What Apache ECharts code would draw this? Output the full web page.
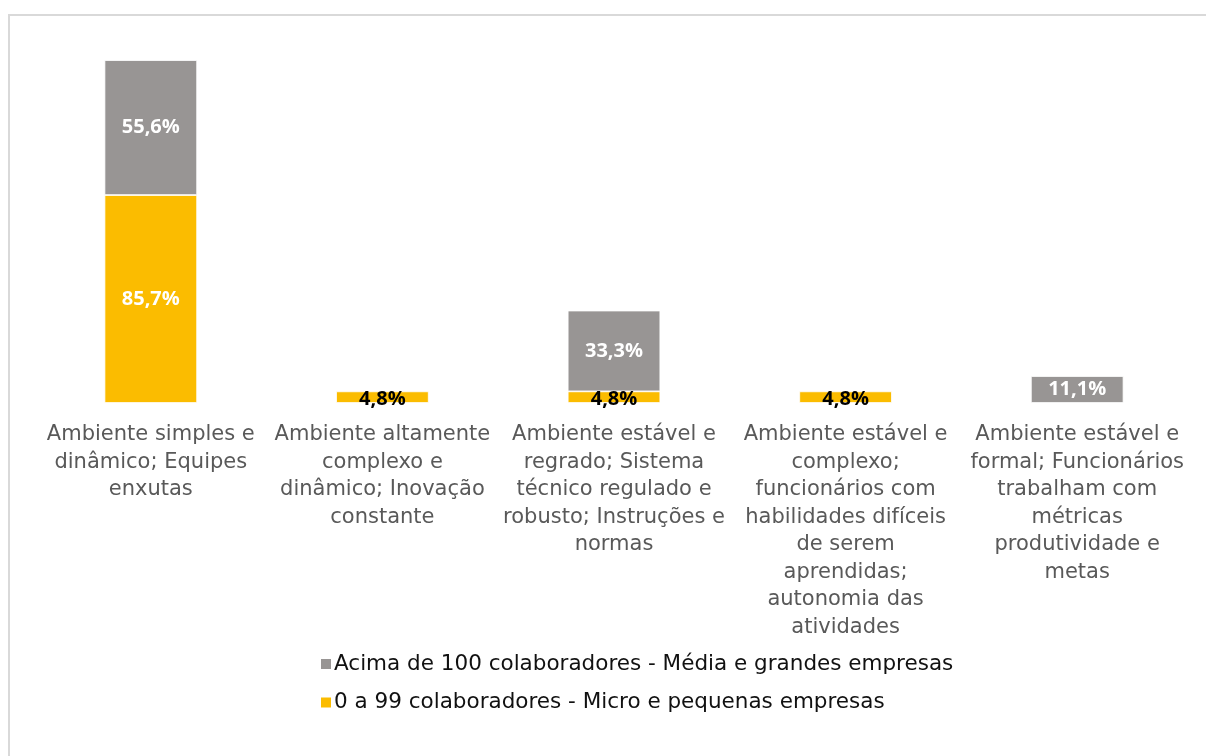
<!DOCTYPE html>
<html>
<head>
<meta charset="utf-8">
<style>
  html, body { margin: 0; padding: 0; background: #ffffff; overflow: hidden; }
  #frame { position: absolute; left: 8px; top: 14px; width: 1220px; height: 760px;
           border: 2px solid #d9d9d9; box-sizing: border-box; }
  #chart { position: absolute; left: 0; top: 0; width: 1206px; height: 756px; }
</style>
<script src="https://cdn.jsdelivr.net/npm/echarts@6/dist/echarts.min.js"></script>
</head>
<body>
<div id="frame"></div>
<div id="chart"></div>
<script>
// Organisational environment per company size (share of respondents, %)
const categories = [
  'Ambiente simples e\ndinâmico; Equipes\nenxutas',
  'Ambiente altamente\ncomplexo e\ndinâmico; Inovação\nconstante',
  'Ambiente estável e\nregrado; Sistema\ntécnico regulado e\nrobusto; Instruções e\nnormas',
  'Ambiente estável e\ncomplexo;\nfuncionários com\nhabilidades difíceis\nde serem\naprendidas;\nautonomia das\natividades',
  'Ambiente estável e\nformal; Funcionários\ntrabalham com\nmétricas\nprodutividade e\nmetas'
];
const smallCompanies = [85.7, 4.8, 4.8, 4.8, null];
const largeCompanies = [55.6, null, 33.3, null, 11.1];
const seriesNames = [
  '0 a 99 colaboradores - Micro e pequenas empresas',
  'Acima de 100 colaboradores - Média e grandes empresas'
];

const fmt = p => p.value.toFixed(1).replace('.', ',') + '%';
const textFont = 'DejaVu Sans, Liberation Sans, sans-serif';

const chart = echarts.init(document.getElementById('chart'));
chart.setOption({
  animation: false,
  grid: { left: 35, right: 13, top: 39, height: 364, containLabel: false },
  xAxis: {
    type: 'category',
    data: categories,
    axisLine: { show: false },
    axisTick: { show: false },
    axisLabel: {
      interval: 0,
      margin: 18,
      color: '#595959',
      fontFamily: textFont,
      fontSize: 21,
      lineHeight: 27.5,
      align: 'center'
    }
  },
  yAxis: {
    type: 'value', min: 0, max: 150, show: false,
    splitLine: { show: false }
  },
  legend: {
    orient: 'vertical',
    left: 314,
    top: 648,
    icon: 'rect',
    itemWidth: 12,
    itemHeight: 12,
    itemGap: 16.5,
    data: [seriesNames[1], seriesNames[0]],
    textStyle: {
      color: '#111111',
      fontFamily: textFont,
      fontSize: 21.5,
      padding: [0, 0, 0, -3]
    }
  },
  series: [
    {
      name: seriesNames[0],
      type: 'bar',
      stack: 'total',
      barWidth: '40%',
      data: smallCompanies.map(v => v === null ? null : {
        value: v,
        label: { color: v < 10 ? '#000000' : '#ffffff', offset: v < 10 ? [0, 2] : [0, 0] }
      }),
      itemStyle: { color: '#FBBC00', borderColor: '#ffffff', borderWidth: 0.8 },
      label: {
        show: true, position: 'inside', formatter: fmt,
        fontFamily: 'Open Sans, sans-serif', fontWeight: 'bold', fontSize: 20
      }
    },
    {
      name: seriesNames[1],
      type: 'bar',
      stack: 'total',
      barWidth: '40%',
      data: largeCompanies,
      itemStyle: { color: '#989594', borderColor: '#ffffff', borderWidth: 0.8 },
      label: {
        show: true, position: 'inside', formatter: fmt, color: '#ffffff',
        fontFamily: 'Open Sans, sans-serif', fontWeight: 'bold', fontSize: 20
      }
    }
  ]
});
</script>
</body>
</html>
